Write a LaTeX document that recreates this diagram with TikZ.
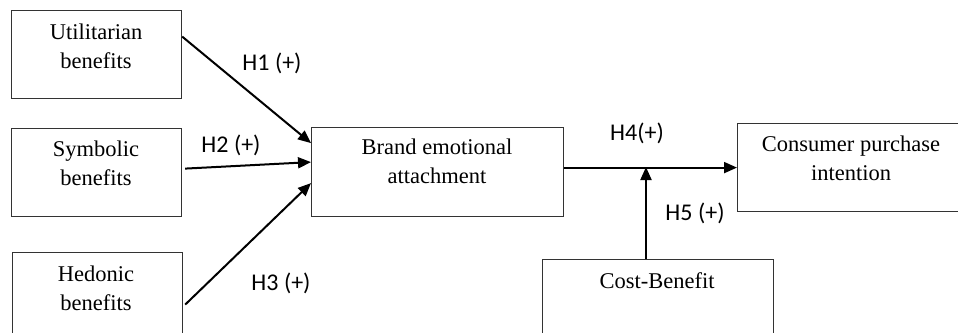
\documentclass[tikz,border=0pt]{standalone}
\usepackage{fontspec}
\setmainfont{Liberation Serif}
\newfontfamily\lblfont{Carlito}
\usetikzlibrary{arrows.meta}
\begin{document}
\begin{tikzpicture}[x=1pt,y=-1pt,
  box/.style={draw=black!80, line width=1.2pt, inner sep=0pt, anchor=north west},
  txt/.style={align=center, anchor=base, inner sep=0pt, font=\fontsize{22.5}{29}\selectfont},
  hyp/.style={font=\lblfont\fontsize{24}{28}\selectfont, inner sep=0pt},
  arr/.style={line width=2pt, -{Triangle[length=13pt,width=11pt]}}]
\useasboundingbox (0,0) rectangle (958,332);
\fill[white] (0,0) rectangle (958,332);
% boxes
\node[box, minimum width=170pt, minimum height=88pt] (ut) at (11,10) {};
\node[box, minimum width=170pt, minimum height=88pt] (sy) at (11,128) {};
\node[box, minimum width=170pt, minimum height=104pt] (hd) at (12,252) {};
\node[box, minimum width=252pt, minimum height=89pt] (br) at (311,127) {};
\node[box, minimum width=230pt, minimum height=88pt] (con) at (737,123) {};
\node[box, minimum width=231pt, minimum height=90pt] (cb) at (542,259) {};
% texts (anchor = baseline of the last line)
\node[txt] (utT) at (96,68) {Utilitarian\\benefits};
\node[txt] (syT) at (96,185) {Symbolic\\benefits};
\node[txt] (hdT) at (96,310) {Hedonic\\benefits};
\node[txt] (brT) at (437,183) {Brand emotional\\attachment};
\node[txt] (conT) at (851,180) {Consumer purchase\\intention};
\node[txt] (cbT) at (657,288) {Cost-Benefit};
% arrows
\draw[arr] ([yshift=18pt]ut.east) -- ([yshift=29pt]br.west);
\draw[arr] ([xshift=3pt,yshift=4pt]sy.east) -- ([yshift=10pt]br.west);
\draw[arr] ([xshift=2pt]hd.east) -- ([yshift=-11pt]br.west);
\draw[arr] (br.east |- con.west) -- (con.west);
\coordinate (m) at (646,167);
\draw[arr] (cb.north -| m) -- (m);
% labels
\node[hyp] (h1) at (272,63) {H1 (+)};
\node[hyp] (h2) at (231,145) {H2 (+)};
\node[hyp] (h3) at (281,283) {H3 (+)};
\node[hyp] (h4) at (637,133) {H4(+)};
\node[hyp] (h5) at (695,213) {H5 (+)};
\end{tikzpicture}
\end{document}
